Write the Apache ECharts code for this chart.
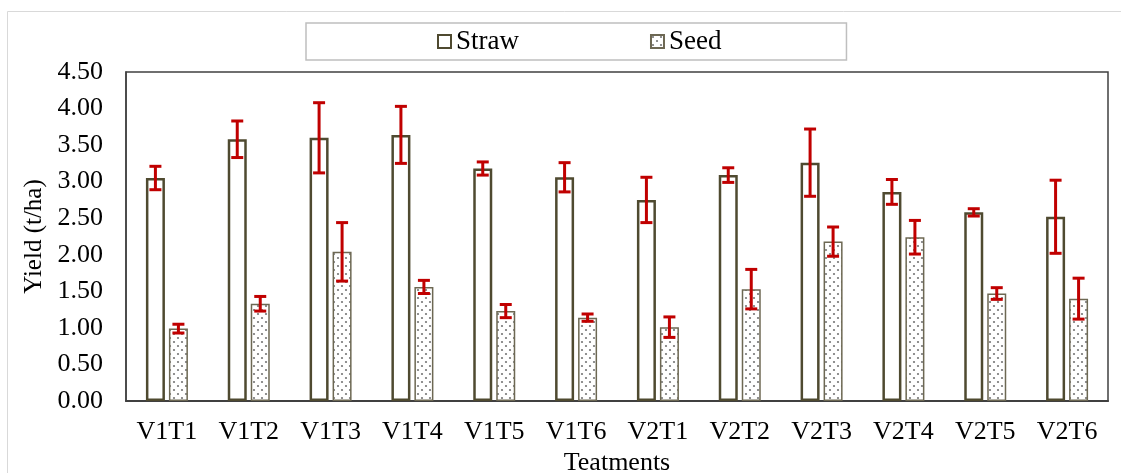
<!DOCTYPE html>
<html>
<head>
<meta charset="utf-8">
<script src="https://cdn.jsdelivr.net/npm/echarts@6/dist/echarts.min.js"></script>
<style>
html,body{margin:0;padding:0;background:#fff;}
#chart{width:1121px;height:473px;}
</style>
</head>
<body>
<div id="chart"></div>
<script>
const categories = ['V1T1','V1T2','V1T3','V1T4','V1T5','V1T6','V2T1','V2T2','V2T3','V2T4','V2T5','V2T6'];
const strawValues = [3.05, 3.58, 3.60, 3.64, 3.18, 3.06, 2.75, 3.09, 3.26, 2.86, 2.58, 2.52];
const strawErrors = [0.16, 0.25, 0.48, 0.39, 0.09, 0.20, 0.31, 0.10, 0.46, 0.17, 0.05, 0.50];
const seedValues  = [0.99, 1.33, 2.04, 1.56, 1.23, 1.14, 1.01, 1.53, 2.18, 2.24, 1.47, 1.40];
const seedErrors  = [0.06, 0.10, 0.40, 0.09, 0.09, 0.05, 0.14, 0.27, 0.20, 0.23, 0.08, 0.28];
const yTicks = [0, 0.5, 1, 1.5, 2, 2.5, 3, 3.5, 4, 4.5];

const FONT = '"Liberation Serif","Times New Roman",serif';
const BAR_W = 19;
const GAP_PX = 4;

const tile = document.createElement('canvas');
tile.width = 8; tile.height = 8;
const tctx = tile.getContext('2d');
tctx.fillStyle = '#ffffff';
tctx.fillRect(0,0,8,8);
tctx.fillStyle = '#767676';
tctx.beginPath(); tctx.arc(2,2,1.1,0,Math.PI*2); tctx.fill();
tctx.beginPath(); tctx.arc(6,6,1.1,0,Math.PI*2); tctx.fill();
const seedPattern = {image: tile, repeat: 'repeat'};

function errorSeries(name, values, errors, sign) {
  const data = values.map((v, i) => [i, v, errors[i]]);
  return {
    type: 'custom',
    name: name + ' err',
    z: 10,
    silent: true,
    data: data,
    encode: {x: 0, y: 1},
    renderItem: function (params, api) {
      const idx = api.value(0);
      const v = api.value(1);
      const e = api.value(2);
      const off = sign * (BAR_W + GAP_PX) / 2;
      const top = api.coord([idx, v + e]);
      const bot = api.coord([idx, v - e]);
      const x = top[0] + off;
      const cap = 6;
      const style = {stroke: '#c00000', lineWidth: 3};
      return {
        type: 'group',
        children: [
          {type: 'line', shape: {x1: x, y1: top[1], x2: x, y2: bot[1]}, style: style},
          {type: 'line', shape: {x1: x - cap, y1: top[1], x2: x + cap, y2: top[1]}, style: style},
          {type: 'line', shape: {x1: x - cap, y1: bot[1], x2: x + cap, y2: bot[1]}, style: style}
        ]
      };
    }
  };
}

const chart = echarts.init(document.getElementById('chart'), null, {renderer: 'canvas'});
chart.setOption({
  animation: false,
  backgroundColor: '#ffffff',
  graphic: [{
    type: 'rect',
    shape: {x: 7.5, y: 11.5, width: 1130, height: 480},
    style: {fill: 'none', stroke: '#d9d9d9', lineWidth: 1},
    z: -1
  }],
  legend: {
    top: 23,
    left: 306,
    data: ['Straw', 'Seed'],
    itemWidth: 13,
    itemHeight: 13,
    itemGap: 131,
    padding: [5, 125, 5, 131],
    borderColor: '#bfbfbf',
    borderWidth: 1.5,
    textStyle: {fontFamily: FONT, fontSize: 27, color: '#000'},
    icon: 'rect'
  },
  grid: {
    left: 126, width: 982, top: 72, height: 329,
    show: true, borderColor: '#404040', borderWidth: 1.5,
    containLabel: false,
    outerBoundsMode: 'none'
  },
  xAxis: {
    type: 'category',
    data: categories,
    name: 'Teatments',
    nameLocation: 'middle',
    nameGap: 47,
    nameTextStyle: {fontFamily: FONT, fontSize: 26, color: '#000'},
    axisLine: {lineStyle: {color: '#404040', width: 2}},
    axisTick: {show: false},
    axisLabel: {fontFamily: FONT, fontSize: 26, color: '#000', margin: 18}
  },
  yAxis: {
    type: 'value',
    min: 0, max: 4.5, interval: 0.5,
    name: 'Yield (t/ha)',
    nameLocation: 'middle',
    nameGap: 78,
    nameTextStyle: {fontFamily: FONT, fontSize: 25, color: '#000'},
    axisLine: {show: true, lineStyle: {color: '#404040', width: 1.5}},
    axisTick: {show: false},
    splitLine: {show: false},
    axisLabel: {
      fontFamily: FONT, fontSize: 26, color: '#000', margin: 23,
      formatter: function (v) { return yTicks.indexOf(v) >= 0 ? v.toFixed(2) : ''; }
    }
  },
  series: [
    {
      name: 'Straw',
      type: 'bar',
      data: strawValues,
      barWidth: BAR_W,
      barGap: (GAP_PX / BAR_W * 100).toFixed(0) + '%',
      itemStyle: {color: '#ffffff', borderColor: '#4f4a30', borderWidth: 2.5}
    },
    {
      name: 'Seed',
      type: 'bar',
      data: seedValues,
      barWidth: BAR_W,
      itemStyle: {color: seedPattern, borderColor: '#6d6853', borderWidth: 1.5}
    },
    errorSeries('Straw', strawValues, strawErrors, -1),
    errorSeries('Seed', seedValues, seedErrors, 1)
  ]
});
</script>
</body>
</html>
